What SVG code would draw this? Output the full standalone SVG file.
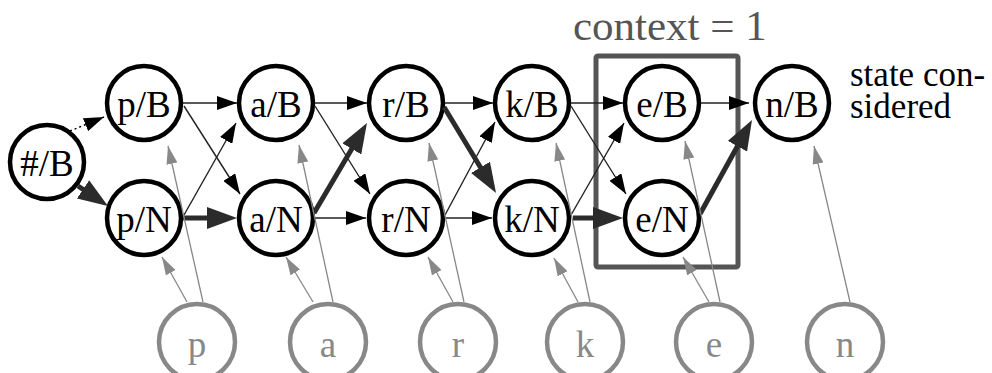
<svg xmlns="http://www.w3.org/2000/svg" width="992" height="373" viewBox="0 0 992 373">
<defs>
<marker id="ah" markerUnits="userSpaceOnUse" viewBox="0 0 20 14" markerWidth="20" markerHeight="14" refX="20" refY="7" orient="auto"><path d="M0,0 L20,7 L0,14 z" fill="#000"/></marker>
<marker id="ahk" markerUnits="userSpaceOnUse" viewBox="0 0 30 22" markerWidth="30" markerHeight="22" refX="22" refY="11" orient="auto"><path d="M0,0 L30,11 L0,22 z" fill="#2b2b2b"/></marker>
<marker id="ahg" markerUnits="userSpaceOnUse" viewBox="0 0 18 11" markerWidth="18" markerHeight="11" refX="18" refY="5.5" orient="auto"><path d="M0,0 L18,5.5 L0,11 z" fill="#888"/></marker>
</defs>
<text x="573" y="40" font-family="Times New Roman" font-size="43" fill="#555">context = 1</text>
<rect id="context-box" x="596" y="56" width="142" height="211" rx="2" fill="none" stroke="#555" stroke-width="5"/>
<g id="note" fill="#000">
<text x="850" y="86" font-family="Times New Roman" font-size="35">state con-</text>
<text x="850" y="118" font-family="Times New Roman" font-size="35">sidered</text>
</g>

<g id="states">
<g id="n-hB"><circle cx="47" cy="162" r="37" fill="none" stroke="#000" stroke-width="4.5"/><text x="47" y="176" font-family="Times New Roman" font-size="37" text-anchor="middle">#/B</text></g>
<g id="n-pB"><circle cx="144" cy="103" r="37" fill="none" stroke="#000" stroke-width="4.5"/><text x="144" y="117" font-family="Times New Roman" font-size="37" text-anchor="middle">p/B</text></g>
<g id="n-pN"><circle cx="144" cy="218" r="37" fill="none" stroke="#000" stroke-width="4.5"/><text x="144" y="232" font-family="Times New Roman" font-size="37" text-anchor="middle">p/N</text></g>
<g id="n-aB"><circle cx="276" cy="103" r="37" fill="none" stroke="#000" stroke-width="4.5"/><text x="276" y="117" font-family="Times New Roman" font-size="37" text-anchor="middle">a/B</text></g>
<g id="n-aN"><circle cx="276" cy="218" r="37" fill="none" stroke="#000" stroke-width="4.5"/><text x="276" y="232" font-family="Times New Roman" font-size="37" text-anchor="middle">a/N</text></g>
<g id="n-rB"><circle cx="406" cy="103" r="37" fill="none" stroke="#000" stroke-width="4.5"/><text x="406" y="117" font-family="Times New Roman" font-size="37" text-anchor="middle">r/B</text></g>
<g id="n-rN"><circle cx="406" cy="218" r="37" fill="none" stroke="#000" stroke-width="4.5"/><text x="406" y="232" font-family="Times New Roman" font-size="37" text-anchor="middle">r/N</text></g>
<g id="n-kB"><circle cx="532" cy="103" r="37" fill="none" stroke="#000" stroke-width="4.5"/><text x="532" y="117" font-family="Times New Roman" font-size="37" text-anchor="middle">k/B</text></g>
<g id="n-kN"><circle cx="532" cy="218" r="37" fill="none" stroke="#000" stroke-width="4.5"/><text x="532" y="232" font-family="Times New Roman" font-size="37" text-anchor="middle">k/N</text></g>
<g id="n-eB"><circle cx="662" cy="103" r="37" fill="none" stroke="#000" stroke-width="4.5"/><text x="662" y="117" font-family="Times New Roman" font-size="37" text-anchor="middle">e/B</text></g>
<g id="n-eN"><circle cx="662" cy="218" r="37" fill="none" stroke="#000" stroke-width="4.5"/><text x="662" y="232" font-family="Times New Roman" font-size="37" text-anchor="middle">e/N</text></g>
<g id="n-nB"><circle cx="792" cy="103" r="37" fill="none" stroke="#000" stroke-width="4.5"/><text x="792" y="117" font-family="Times New Roman" font-size="37" text-anchor="middle">n/B</text></g>
</g>

<g id="observations">
<g id="o-p"><circle cx="197" cy="342" r="38" fill="none" stroke="#888" stroke-width="4.5"/><text x="197" y="357" font-family="Times New Roman" font-size="37" fill="#888" text-anchor="middle">p</text></g>
<g id="o-a"><circle cx="328" cy="342" r="38" fill="none" stroke="#888" stroke-width="4.5"/><text x="328" y="357" font-family="Times New Roman" font-size="37" fill="#888" text-anchor="middle">a</text></g>
<g id="o-r"><circle cx="458" cy="342" r="38" fill="none" stroke="#888" stroke-width="4.5"/><text x="458" y="357" font-family="Times New Roman" font-size="37" fill="#888" text-anchor="middle">r</text></g>
<g id="o-k"><circle cx="585" cy="342" r="38" fill="none" stroke="#888" stroke-width="4.5"/><text x="585" y="357" font-family="Times New Roman" font-size="37" fill="#888" text-anchor="middle">k</text></g>
<g id="o-e"><circle cx="714" cy="342" r="38" fill="none" stroke="#888" stroke-width="4.5"/><text x="714" y="357" font-family="Times New Roman" font-size="37" fill="#888" text-anchor="middle">e</text></g>
<g id="o-n"><circle cx="845" cy="342" r="38" fill="none" stroke="#888" stroke-width="4.5"/><text x="845" y="357" font-family="Times New Roman" font-size="37" fill="#888" text-anchor="middle">n</text></g>
</g>

<g id="connectors" fill="none">
<line x1="70" y1="131" x2="104" y2="117" stroke="#000" stroke-width="1.5" stroke-dasharray="2,3" marker-end="url(#ah)"/>
<g id="thin" stroke="#222" stroke-width="1.4">
<line x1="183" y1="103" x2="237" y2="103" marker-end="url(#ah)"/>
<line x1="315" y1="103" x2="367" y2="103" marker-end="url(#ah)"/>
<line x1="445" y1="103" x2="493" y2="103" marker-end="url(#ah)"/>
<line x1="571" y1="103" x2="623" y2="103" marker-end="url(#ah)"/>
<line x1="701" y1="103" x2="749" y2="103" marker-end="url(#ah)"/>
<line x1="315" y1="218" x2="366" y2="218" marker-end="url(#ah)"/>
<line x1="445" y1="218" x2="492" y2="218" marker-end="url(#ah)"/>
<line x1="184" y1="106" x2="240" y2="194" marker-end="url(#ah)"/>
<line x1="315" y1="106" x2="370" y2="194" marker-end="url(#ah)"/>
<line x1="571" y1="106" x2="626" y2="194" marker-end="url(#ah)"/>
<line x1="184" y1="215" x2="236" y2="123" marker-end="url(#ah)"/>
<line x1="445" y1="215" x2="495" y2="122" marker-end="url(#ah)"/>
<line x1="571" y1="215" x2="624" y2="123" marker-end="url(#ah)"/>
</g>
<g id="thick" stroke="#2b2b2b" stroke-width="5">
<line x1="78" y1="186" x2="101.3" y2="201.6" marker-end="url(#ahk)"/>
<line x1="183" y1="218" x2="229" y2="218" marker-end="url(#ahk)"/>
<line x1="314" y1="213" x2="362.9" y2="129.9" marker-end="url(#ahk)"/>
<line x1="444" y1="107" x2="491.9" y2="186.2" marker-end="url(#ahk)"/>
<line x1="573" y1="218" x2="615" y2="218" marker-end="url(#ahk)"/>
<line x1="700" y1="214" x2="748.1" y2="127" marker-end="url(#ahk)"/>
</g>
<g id="gray" stroke="#888" stroke-width="1.3">
<line x1="187" y1="302" x2="162" y2="257" marker-end="url(#ahg)"/>
<line x1="203" y1="302" x2="168" y2="146" marker-end="url(#ahg)"/>
<line x1="313" y1="302" x2="286" y2="257" marker-end="url(#ahg)"/>
<line x1="333" y1="302" x2="299" y2="145" marker-end="url(#ahg)"/>
<line x1="453" y1="302" x2="428" y2="257" marker-end="url(#ahg)"/>
<line x1="464" y1="302" x2="429" y2="143" marker-end="url(#ahg)"/>
<line x1="578" y1="302" x2="554" y2="258" marker-end="url(#ahg)"/>
<line x1="590" y1="302" x2="556" y2="143" marker-end="url(#ahg)"/>
<line x1="709" y1="302" x2="683" y2="257" marker-end="url(#ahg)"/>
<line x1="720" y1="302" x2="685" y2="141" marker-end="url(#ahg)"/>
<line x1="850" y1="302" x2="814" y2="146" marker-end="url(#ahg)"/>
</g>
</g>
</svg>
